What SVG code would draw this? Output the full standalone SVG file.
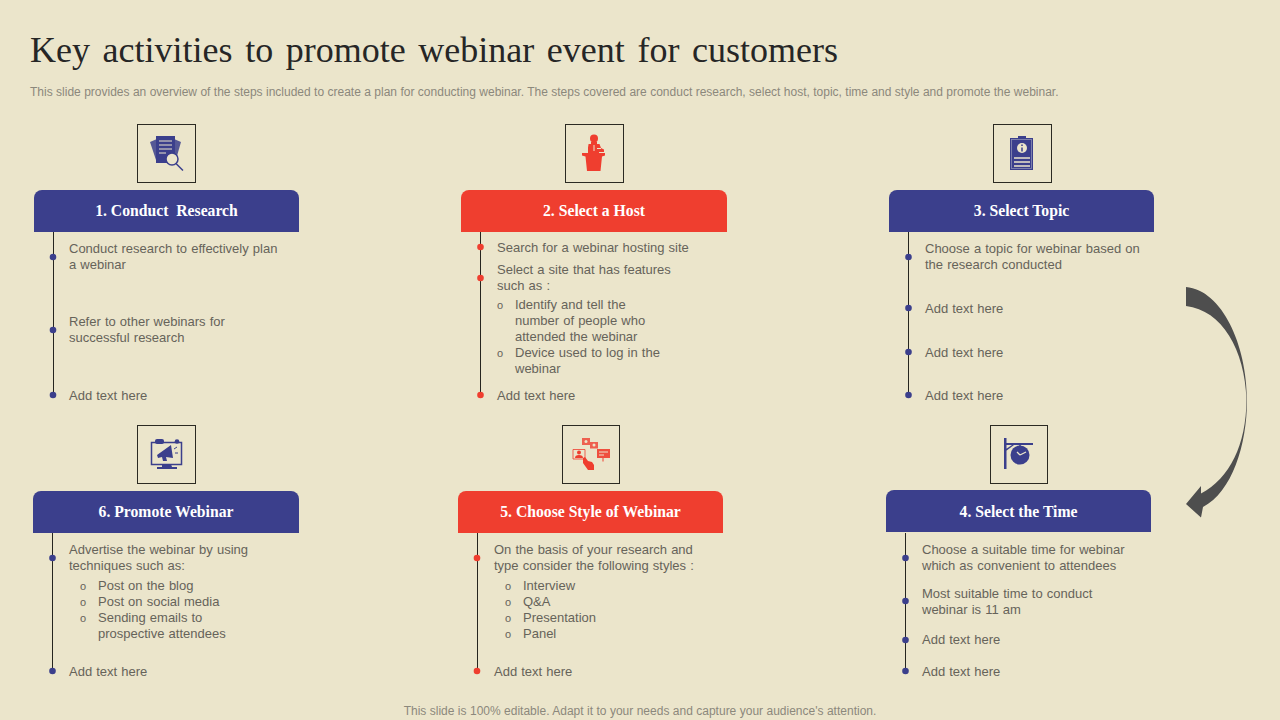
<svg xmlns="http://www.w3.org/2000/svg" width="1280" height="720" viewBox="0 0 1280 720">
<style>
text{font-family:"Liberation Sans",Arial,sans-serif;fill:#66635a;font-size:13px;word-spacing:.5px}
.title{font-family:"Liberation Serif","Times New Roman",serif;font-size:36px;fill:#262626;word-spacing:3.6px}
.sub{font-size:12px;fill:#8b887c;word-spacing:.07px}
.foot{font-size:12px;fill:#8b887c;text-anchor:middle;word-spacing:.1px}
.hd{font-family:"Liberation Serif","Times New Roman",serif;font-size:15.700px;font-weight:bold;fill:#fff;text-anchor:middle;word-spacing:0}
.pre{white-space:pre}
.o{font-size:11px}
.box{fill:none;stroke:#2b2a22;stroke-width:1}
.b{fill:#3b3f8c}.r{fill:#ef3e2f}
.c{fill:#ebe5cb}
.ls{stroke-width:1;fill:none;stroke:#26251f}
.cl{stroke:#ebe5cb;fill:none}
</style>
<rect width="1280" height="720" fill="#ebe5cb"/>
<text class="title" x="30" y="62">Key activities to promote webinar event for customers</text>
<text class="sub" x="30" y="96">This slide provides an overview of the steps included to create a plan for conducting webinar. The steps covered are conduct research, select host, topic, time and style and promote the webinar.</text>
<g id="connectors">
<path class="ls" d="M53.500 232V395M908.500 232V395M52.500 533V671M905.500 533V671M480.500 232V395M477.500 533V671"/>
<g class="b"><circle cx="53" cy="257" r="3.300"/><circle cx="53" cy="330" r="3.300"/><circle cx="53" cy="395" r="3.300"/>
<circle cx="908.500" cy="257" r="3.300"/><circle cx="908.500" cy="308" r="3.300"/><circle cx="908.500" cy="352" r="3.300"/><circle cx="908.500" cy="395" r="3.300"/>
<circle cx="52.500" cy="558" r="3.300"/><circle cx="52.500" cy="671" r="3.300"/>
<circle cx="905.500" cy="558" r="3.300"/><circle cx="905.500" cy="601" r="3.300"/><circle cx="905.500" cy="640" r="3.300"/><circle cx="905.500" cy="671" r="3.300"/></g>
<g class="r"><circle cx="480.500" cy="247" r="3.300"/><circle cx="480.500" cy="278" r="3.300"/><circle cx="480.500" cy="395" r="3.300"/>
<circle cx="477" cy="558" r="3.300"/><circle cx="477" cy="671" r="3.300"/></g>
</g>
<g id="node-1">
<rect class="box" x="137.500" y="124.500" width="58" height="58"/>
<g class="b"><path d="M150 142l7-3 2 20 6 4h-8z" opacity=".85"/><path d="M174 139l7 3-4 14-3 2z" opacity=".85"/><rect x="156" y="136" width="19" height="27"/></g>
<path class="cl" d="M159 141h13M159 145h13M159 149h13M159 153h7"/>
<circle cx="172" cy="159" r="6" class="c" stroke="#3b3f8c" stroke-width="1.500"/><path d="M176 163.500l7 7" stroke="#3b3f8c" stroke-width="1.500"/>
<path class="b" d="M34 232V198a8 8 0 0 1 8-8H291a8 8 0 0 1 8 8V232z"/>
<text class="hd pre" x="166.500" y="216">1. Conduct  Research</text>
<text x="69" y="253">Conduct research to effectively  plan</text><text x="69" y="269">a webinar</text>
<text x="69" y="326">Refer to other webinars for</text><text x="69" y="342">successful research</text>
<text x="69" y="400">Add text here</text>
</g>
<g id="node-2">
<rect class="box" x="565.500" y="124.500" width="58" height="58"/>
<g class="r"><circle cx="594" cy="138.500" r="4"/><path d="M591 142h6v2h-6z"/><path d="M588.500 144h11l1.500 4 3 1.500v2.500h-5v1.500h-11v-6l.5-3z"/><path d="M582 153h23v2.500l-3 1-1.500 14.500h-13.500l-1.500-14.500-3.500-1z"/></g>
<path class="cl" d="M594 145v6M597 148.500h4"/>
<path class="r" d="M461 232V198a8 8 0 0 1 8-8H719a8 8 0 0 1 8 8V232z"/>
<text class="hd" x="594" y="216">2. Select a Host</text>
<text x="497" y="252">Search for a webinar hosting site</text>
<text x="497" y="274">Select a site that has features</text><text x="497" y="290">such as :</text>
<text class="o" x="497" y="309">o</text><text x="515" y="309">Identify and tell the</text><text x="515" y="325">number of people who</text><text x="515" y="341">attended the webinar</text>
<text class="o" x="497" y="357">o</text><text x="515" y="357">Device used to log in the</text><text x="515" y="373">webinar</text>
<text x="497" y="400">Add text here</text>
</g>
<g id="node-3">
<rect class="box" x="993.500" y="124.500" width="58" height="58"/>
<path class="b" d="M1010 138h8v-2h8v2h7v32h-23z"/>
<rect x="1011.500" y="139.500" width="20" height="29" fill="none" stroke="#8d8fb5" stroke-width=".8"/>
<circle cx="1022" cy="148" r="5" class="c"/><path d="M1022 147.500v4M1022 144.500v1.500" stroke="#3b3f8c" stroke-width="1.500"/>
<path d="M1014 158h16M1014 162h16M1014 166h16" stroke="#ebe5cb" stroke-width="1.300"/>
<path class="b" d="M889 232V198a8 8 0 0 1 8-8H1146a8 8 0 0 1 8 8V232z"/>
<text class="hd" x="1021.500" y="216">3. Select Topic</text>
<text x="925" y="253">Choose a topic for webinar based on</text><text x="925" y="269">the research conducted</text>
<text x="925" y="313">Add text here</text><text x="925" y="357">Add text here</text><text x="925" y="400">Add text here</text>
</g>
<g id="node-4">
<rect class="box" x="990.500" y="425.500" width="57" height="58"/>
<path class="b" d="M1004 438h2.500v31H1004zM1006 443h27v2h-27zM1006 449l6-4h2l-8 6z"/>
<path d="M1020 445v3" stroke="#3b3f8c" stroke-width="1.500"/>
<circle cx="1020" cy="455" r="9.500" class="b"/><path d="M1020 455l-3-3M1020 455l6-3" stroke="#ebe5cb" stroke-width="1.300" fill="none"/>
<path class="b" d="M886 532V498a8 8 0 0 1 8-8H1143a8 8 0 0 1 8 8V532z"/>
<text class="hd" x="1018.500" y="517">4. Select the Time</text>
<text x="922" y="554">Choose a suitable time for webinar</text><text x="922" y="570">which as convenient to attendees</text>
<text x="922" y="598">Most suitable time to conduct</text><text x="922" y="614">webinar is 11 am</text>
<text x="922" y="644">Add text here</text><text x="922" y="676">Add text here</text>
</g>
<g id="node-5">
<rect class="box" x="562.500" y="425.500" width="57" height="58"/>
<g class="r"><rect x="582" y="438" width="8" height="7" opacity=".8"/><rect x="590" y="442" width="8" height="6.500" opacity=".8"/><rect x="597" y="449" width="13" height="9" opacity=".9"/><path d="M603 458v3.500" stroke="#ef3e2f"/>
<path d="M573 449.500h12v9.500h-12z" fill="none" stroke="#ef3e2f" opacity=".8"/><circle cx="579" cy="452.500" r="2"/><path d="M575 458a4 3 0 0 1 8 0z"/>
<path d="M583 458l2-1 3 4 4 1 2 3v5h-6l-5-7z"/></g>
<circle cx="586" cy="441.500" r="1.500" class="c"/><circle cx="594" cy="445" r="1.500" class="c"/>
<path class="cl" d="M599 452h9M599 455h5"/>
<path class="r" d="M458 533V499a8 8 0 0 1 8-8H715a8 8 0 0 1 8 8V533z"/>
<text class="hd" x="590.500" y="517">5. Choose Style of Webinar</text>
<text x="494" y="554">On the basis of your research and</text><text x="494" y="570">type consider the following  styles :</text>
<text class="o" x="505" y="590">o</text><text x="523" y="590">Interview</text>
<text class="o" x="505" y="606">o</text><text x="523" y="606">Q&amp;A</text>
<text class="o" x="505" y="622">o</text><text x="523" y="622">Presentation</text>
<text class="o" x="505" y="638">o</text><text x="523" y="638">Panel</text>
<text x="494" y="676">Add text here</text>
</g>
<g id="node-6">
<rect class="box" x="137.500" y="425.500" width="58" height="58"/>
<rect x="151.500" y="442.500" width="30" height="22" fill="none" stroke="#3b3f8c" stroke-width="1.500"/>
<g class="b"><path d="M162 464h9l1 3h5v2h-20v-2h5z"/><rect x="155" y="439" width="9" height="5" rx="2"/><circle cx="177" cy="441.500" r="2.300"/><path d="M157 455l14-10 2 13-7-1 1 4h-4l-1-4-4 1z"/></g>
<path d="M174 449l3-2M175 453h3" stroke="#3b3f8c"/>
<path class="b" d="M33 533V499a8 8 0 0 1 8-8H291a8 8 0 0 1 8 8V533z"/>
<text class="hd" x="166" y="517">6. Promote Webinar</text>
<text x="69" y="554">Advertise the webinar  by using</text><text x="69" y="570">techniques  such as:</text>
<text class="o" x="80" y="590">o</text><text x="98" y="590">Post on the blog</text>
<text class="o" x="80" y="606">o</text><text x="98" y="606">Post on social media</text>
<text class="o" x="80" y="622">o</text><text x="98" y="622">Sending emails to</text><text x="98" y="638">prospective attendees</text>
<text x="69" y="676">Add text here</text>
</g>
<path id="arrow" fill="#4e4e4e" d="M1186 287C1222 290 1247 345 1247 400C1247 445 1232 492 1203 507L1201 517.500L1186 504L1201 486L1201 493.500C1230 478 1246 445 1246.500 400C1245 350 1222 310 1186 306Z"/>
<text class="foot" x="640" y="715">This slide is 100% editable. Adapt it to your needs and capture your audience's attention.</text>
</svg>
